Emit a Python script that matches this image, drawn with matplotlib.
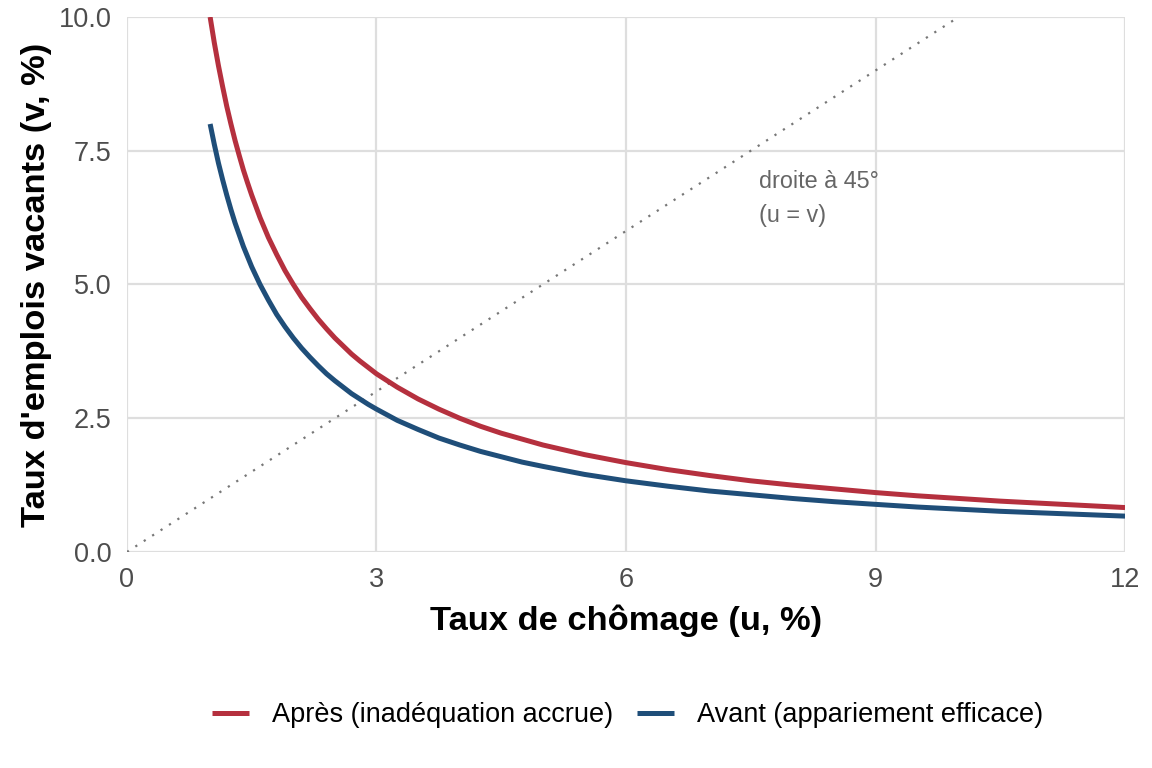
import matplotlib
matplotlib.use("Agg")
import matplotlib.pyplot as plt

plt.rcParams['font.family'] = ['Liberation Sans', 'DejaVu Sans']

# taux de chomage (u, %)
u_vals = [1.0, 1.05, 1.1, 1.15, 1.2, 1.25, 1.3, 1.35, 1.4, 1.45, 1.5,
          1.6, 1.7, 1.8, 1.9, 2.0, 2.1, 2.2, 2.3, 2.4, 2.5, 2.6, 2.7, 2.8, 2.9, 3.0,
          3.25, 3.5, 3.75, 4.0, 4.25, 4.5, 4.75, 5.0,
          5.5, 6.0, 6.5, 7.0, 7.5, 8.0, 8.5, 9.0, 9.5, 10.0, 10.5, 11.0, 11.5, 12.0]
# apres (inadequation accrue)
v_apres = [10.0, 9.52, 9.09, 8.70, 8.33, 8.00, 7.69, 7.41, 7.14, 6.90, 6.67,
           6.25, 5.88, 5.56, 5.26, 5.00, 4.76, 4.55, 4.35, 4.17, 4.00, 3.85, 3.70, 3.57, 3.45, 3.33,
           3.08, 2.86, 2.67, 2.50, 2.35, 2.22, 2.11, 2.00,
           1.82, 1.67, 1.54, 1.43, 1.33, 1.25, 1.18, 1.11, 1.05, 1.00, 0.95, 0.91, 0.87, 0.83]
# avant (appariement efficace)
v_avant = [8.00, 7.62, 7.27, 6.96, 6.67, 6.40, 6.15, 5.93, 5.71, 5.52, 5.33,
           5.00, 4.71, 4.44, 4.21, 4.00, 3.81, 3.64, 3.48, 3.33, 3.20, 3.08, 2.96, 2.86, 2.76, 2.67,
           2.46, 2.29, 2.13, 2.00, 1.88, 1.78, 1.68, 1.60,
           1.45, 1.33, 1.23, 1.14, 1.07, 1.00, 0.94, 0.89, 0.84, 0.80, 0.76, 0.73, 0.70, 0.67]
# droite a 45 degres
diag = [0, 10]

x_ticks = [0, 3, 6, 9, 12]
y_ticks = [0.0, 2.5, 5.0, 7.5, 10.0]

fig = plt.figure(figsize=(11.52, 7.68), dpi=100)
ax = fig.add_axes([0.1102, 0.2813, 0.8664, 0.6966])

ax.plot(diag, diag, color="#777777", linestyle=(0, (1, 3.5)), linewidth=1.6)
ax.plot(u_vals, v_apres, color="#B5303E", linewidth=3.6, label="Après (inadéquation accrue)",
        solid_capstyle="butt", solid_joinstyle="round")
ax.plot(u_vals, v_avant, color="#1F4E79", linewidth=3.6, label="Avant (appariement efficace)",
        solid_capstyle="butt", solid_joinstyle="round")

ax.text(7.6, 6.6, "droite à 45°\n(u = v)", color="#666666", fontsize=16.8,
        va="center", ha="left", linespacing=1.62)

ax.set_xlim(0, 12)
ax.set_ylim(0, 10)
ax.set_xticks(x_ticks)
ax.set_xticklabels([str(t) for t in x_ticks])
ax.set_yticks(y_ticks)
ax.set_yticklabels(["%.1f" % t for t in y_ticks])
ax.tick_params(length=0, labelsize=19.5, labelcolor="#4D4D4D")
ax.tick_params(axis="y", pad=11)
ax.tick_params(axis="x", pad=11)
ax.grid(True, color="#DEDEDE", linewidth=1.6)
ax.set_axisbelow(True)
for s in ax.spines.values():
    s.set_visible(False)

ax.set_xlabel("Taux de chômage (u, %)", fontsize=24.8, fontweight="bold", labelpad=8)
ax.set_ylabel("Taux d'emplois vacants (v, %)", fontsize=24.8, fontweight="bold", labelpad=5)

fig.legend(loc="center", bbox_to_anchor=(0.5447, 0.069), ncol=2, frameon=False,
           fontsize=19.5, handlelength=1.37, columnspacing=0.85, handletextpad=0.85)

fig.savefig("out.png", dpi=100)
